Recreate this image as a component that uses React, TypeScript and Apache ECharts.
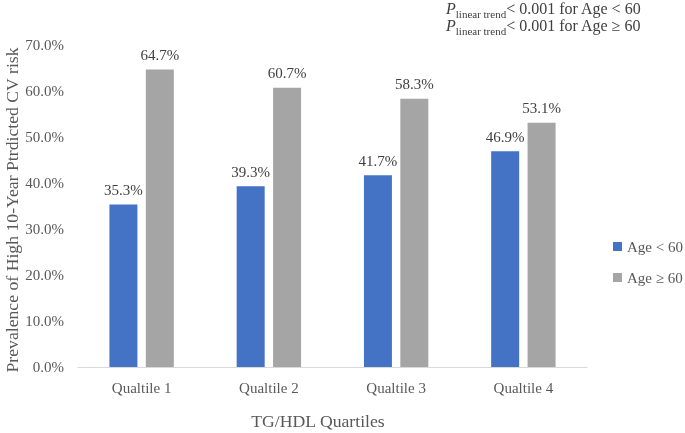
import React, { useEffect, useRef } from "react";
import * as echarts from "echarts";

const categories = ["Qualtile 1", "Qualtile 2", "Qualtile 3", "Qualtile 4"];
const under60 = [35.3, 39.3, 41.7, 46.9];
const over60 = [64.7, 60.7, 58.3, 53.1];
const seriesNames = ["Age < 60", "Age \u2265 60"];
const yTicks = { min: 0, max: 70, interval: 10 };
const FONT = "'Liberation Serif', 'Times New Roman', serif";

export default function App() {
  const ref = useRef<HTMLDivElement>(null);
  useEffect(() => {
    if (!ref.current) return;
    const chart = echarts.init(ref.current, undefined, { renderer: "svg" });
    const labelStyle = {
      show: true,
      position: "top" as const,
      distance: 7,
      formatter: (p: any) => p.value.toFixed(1) + "%",
      color: "#404040",
      fontSize: 15,
      fontFamily: FONT,
    };
    const richLine = (txt: string) => ({
      text: "{p|P}{s|linear trend}{t|< 0.001 for Age " + txt + "}",
      rich: {
        p: { fontSize: 16, fontStyle: "italic", fontFamily: FONT, fill: "#404040", verticalAlign: "bottom" },
        s: { fontSize: 11, fontFamily: FONT, fill: "#404040", verticalAlign: "bottom", padding: [0, 0, -3, 0] },
        t: { fontSize: 16, fontFamily: FONT, fill: "#404040", verticalAlign: "bottom" },
      },
    });
    chart.setOption({
      animation: false,
      textStyle: { fontFamily: FONT },
      grid: { left: 78, right: 98, top: 45, bottom: 66 },
      legend: {
        orient: "vertical",
        left: 613,
        top: 239,
        padding: 0,
        itemWidth: 9,
        itemHeight: 9,
        itemGap: 16,
        icon: "rect",
        textStyle: { fontSize: 15, color: "#595959", fontFamily: FONT },
        data: seriesNames,
      },
      xAxis: {
        type: "category",
        data: categories,
        axisTick: { show: false },
        axisLine: { lineStyle: { color: "#D9D9D9", width: 1 } },
        axisLabel: { color: "#595959", fontSize: 15, margin: 13, fontFamily: FONT },
      },
      yAxis: {
        type: "value",
        min: yTicks.min,
        max: yTicks.max,
        interval: yTicks.interval,
        splitLine: { show: false },
        axisLine: { show: false },
        axisTick: { show: false },
        axisLabel: {
          color: "#595959",
          fontSize: 15,
          margin: 14,
          fontFamily: FONT,
          formatter: (v: number) => v.toFixed(1) + "%",
        },
      },
      series: [
        {
          name: seriesNames[0],
          type: "bar",
          data: under60,
          barWidth: 28,
          barGap: "30%",
          itemStyle: { color: "#4472C4" },
          label: labelStyle,
        },
        {
          name: seriesNames[1],
          type: "bar",
          data: over60,
          barWidth: 28,
          itemStyle: { color: "#A5A5A5" },
          label: labelStyle,
        },
      ],
      graphic: [
        {
          type: "text",
          x: 12,
          y: 210,
          rotation: Math.PI / 2,
          style: {
            text: "Prevalence of High 10-Year Ptrdicted CV risk",
            fontSize: 17.7,
            fontFamily: FONT,
            fill: "#595959",
            align: "center",
            verticalAlign: "middle",
          },
        },
        {
          type: "text",
          x: 318,
          y: 421,
          style: {
            text: "TG/HDL Quartiles",
            fontSize: 17.7,
            fontFamily: FONT,
            fill: "#595959",
            align: "center",
            verticalAlign: "middle",
          },
        },
        {
          type: "text",
          x: 446,
          y: 0,
          style: { ...richLine("< 60") },
        },
        {
          type: "text",
          x: 446,
          y: 17,
          style: { ...richLine("\u2265 60") },
        },
      ],
    });
    return () => chart.dispose();
  }, []);
  return <div ref={ref} style={{ position: "fixed", left: 0, top: 0, width: 685, height: 433 }} />;
}
